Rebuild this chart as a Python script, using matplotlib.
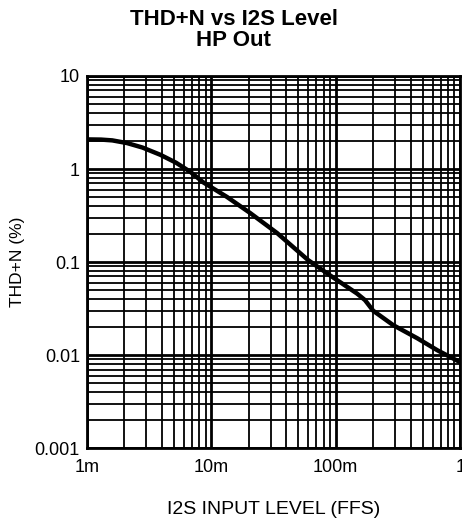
import numpy as np
import matplotlib.pyplot as plt
from matplotlib.ticker import FixedLocator, NullFormatter, LogLocator

plt.rcParams['font.family'] = ['Liberation Sans', 'DejaVu Sans']

# 曲线数据
level = [0.001, 0.0013, 0.0016, 0.0021, 0.0028, 0.0039, 0.0052, 0.0068, 0.0086, 0.0134,
         0.0205, 0.0338, 0.060, 0.065, 0.090, 0.148, 0.172, 0.200, 0.290, 0.452, 0.655, 1.0]
thdn = [2.08, 2.07, 2.03, 1.90, 1.70, 1.42, 1.17, 0.93, 0.72, 0.50,
        0.337, 0.205, 0.105, 0.0975, 0.072, 0.046, 0.039, 0.030, 0.021, 0.0152, 0.0113, 0.0084]

x_ticks = [0.001, 0.01, 0.1, 1]
x_labels = ['1m', '10m', '100m', '1']
y_ticks = [0.001, 0.01, 0.1, 1, 10]
y_labels = ['0.001', '0.01', '0.1', '1', '10']

fig = plt.figure(figsize=(4.62, 5.20), dpi=100)
ax = fig.add_axes([0.188, 0.138, 0.808, 0.716])

ax.set_xscale('log')
ax.set_yscale('log')
ax.set_xlim(0.001, 1)
ax.set_ylim(0.001, 10)

ax.xaxis.set_major_locator(FixedLocator(x_ticks))
ax.yaxis.set_major_locator(FixedLocator(y_ticks))
ax.xaxis.set_minor_locator(LogLocator(base=10, subs=np.arange(2, 10), numticks=20))
ax.yaxis.set_minor_locator(LogLocator(base=10, subs=np.arange(2, 10), numticks=20))
ax.xaxis.set_minor_formatter(NullFormatter())
ax.yaxis.set_minor_formatter(NullFormatter())
ax.set_xticklabels(x_labels)
ax.set_yticklabels(y_labels)

ax.grid(which='major', color='black', linewidth=2.0)
ax.grid(which='minor', color='black', linewidth=1.3)
ax.tick_params(which='both', length=0, labelsize=13)
ax.tick_params(axis='y', pad=5)
ax.tick_params(axis='x', pad=8)
for s in ax.spines.values():
    s.set_linewidth(2.0)

ax.plot(level, thdn, color='black', linewidth=3.2, solid_capstyle='butt')

ax.set_xlabel('I2S INPUT LEVEL (FFS)', fontsize=14, labelpad=18)
ax.set_ylabel('THD+N (%)', fontsize=12.5, labelpad=7)
fig.text(0.506, 0.982, 'THD+N vs I2S Level\nHP Out', ha='center', va='top',
         fontsize=16, fontweight='bold', linespacing=1.0)

fig.savefig('out.png', dpi=100)
